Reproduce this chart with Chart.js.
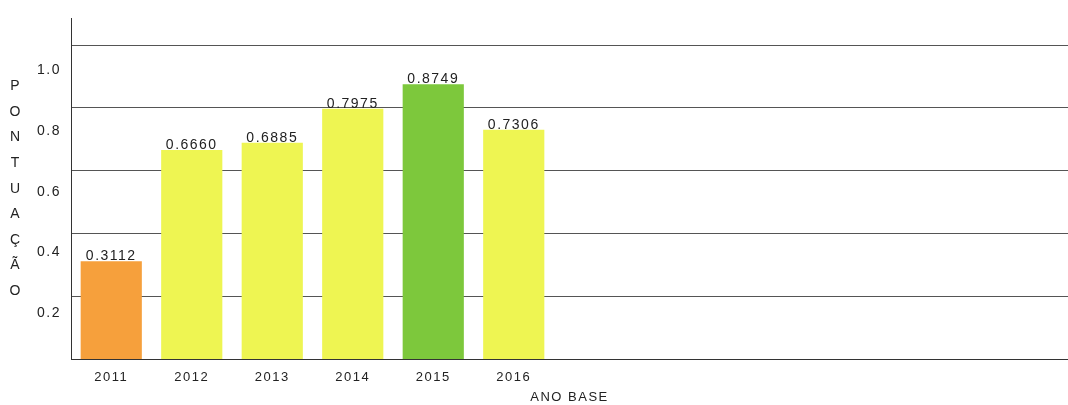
<!DOCTYPE html>
<html>
<head>
<meta charset="utf-8">
<script src="https://cdn.jsdelivr.net/npm/chart.js@4/dist/chart.umd.min.js"></script>
<style>
  html, body { margin: 0; padding: 0; background: #ffffff; overflow: hidden; }
  #wrap { width: 1068px; height: 405px; position: relative; }
</style>
</head>
<body>
<div id="wrap"><canvas id="c"></canvas></div>
<script>
// ---- data ----
const categories = [2011, 2012, 2013, 2014, 2015, 2016];
const scores = [0.3112, 0.6660, 0.6885, 0.7975, 0.8749, 0.7306];
const barColors = ['#F6A03C', '#EEF552', '#EEF552', '#EEF552', '#7DC83C', '#EEF552'];
const yTickValues = [0.2, 0.4, 0.6, 0.8, 1.0];
const yTitle = 'PONTUAÇÃO';
const xTitle = 'ANO BASE';

const FONT = "'Liberation Sans', Arial, sans-serif";
const TEXT = '#222222';

const spacingPlugin = {
  id: 'spacing',
  beforeUpdate(c) { c.ctx.letterSpacing = '1.5px'; },
  beforeLayout(c) { c.ctx.letterSpacing = '1.5px'; },
  beforeDraw(c) { c.ctx.letterSpacing = '1.5px'; }
};

const valueLabels = {
  id: 'valueLabels',
  afterDatasetsDraw(c) {
    const ctx = c.ctx;
    const meta = c.getDatasetMeta(0);
    ctx.save();
    ctx.letterSpacing = '1.5px';
    ctx.font = '14px ' + FONT;
    ctx.fillStyle = TEXT;
    ctx.textAlign = 'center';
    ctx.textBaseline = 'alphabetic';
    meta.data.forEach((bar, i) => {
      ctx.fillText(scores[i].toFixed(4), bar.x, bar.y - 1);
    });
    ctx.restore();
  }
};

const stackedTitle = {
  id: 'stackedTitle',
  afterDraw(c) {
    const ctx = c.ctx;
    const area = c.chartArea;
    const letters = Array.from(yTitle);
    const step = 25.6;
    const mid = (area.top + area.bottom) / 2;
    const first = mid - step * (letters.length - 1) / 2;
    ctx.save();
    ctx.letterSpacing = '0px';
    ctx.font = '14px ' + FONT;
    ctx.fillStyle = TEXT;
    ctx.textAlign = 'center';
    ctx.textBaseline = 'middle';
    letters.forEach((ch, i) => ctx.fillText(ch, 15, first + i * step));
    ctx.restore();
  }
};

new Chart(document.getElementById('c'), {
  type: 'bar',
  data: {
    datasets: [{
      data: categories.map((c, i) => ({ x: c, y: scores[i] })),
      xAxisID: 'x',
      yAxisID: 'y',
      backgroundColor: barColors,
      borderWidth: 0,
      categoryPercentage: 0.8,
      barPercentage: 0.95
    }]
  },
  options: {
    responsive: true,
    maintainAspectRatio: false,
    animation: false,
    events: [],
    layout: { padding: { left: 30, top: 15, right: 0, bottom: 0 } },
    plugins: { legend: { display: false }, tooltip: { enabled: false } },
    scales: {
      x: {
        type: 'linear',
        offset: false,
        min: 2010.5,
        max: 2022.885,
        afterBuildTicks(s) { s.ticks = categories.map(v => ({ value: v })); },
        afterFit(s) { s.height = 46; },
        grid: { display: false, drawTicks: false, offset: false },
        border: { display: true, color: '#333333', width: 1 },
        ticks: {
          autoSkip: false, maxRotation: 0, padding: 11,
          color: TEXT, font: { family: FONT, size: 13 },
          callback: v => String(v)
        },
        title: {
          display: true, text: xTitle, color: TEXT,
          font: { family: FONT, size: 13 }, padding: { top: 0, bottom: 0 }
        }
      },
      yLabels: {
        type: 'linear',
        position: 'left',
        weight: 2,
        min: 0.0504,
        max: 1.169,
        afterBuildTicks(s) { s.ticks = yTickValues.map(v => ({ value: v })); },
        afterFit(s) { s.width = 41; },
        grid: { display: false, drawTicks: false },
        border: { display: false },
        ticks: {
          padding: 10, color: TEXT, font: { family: FONT, size: 14 },
          callback: v => v.toFixed(1)
        }
      },
      y: {
        type: 'linear',
        position: 'left',
        weight: 1,
        min: 0,
        max: 1.085,
        afterBuildTicks(s) { s.ticks = yTickValues.map(v => ({ value: v })); },
        afterFit(s) { s.width = 0; },
        grid: { color: '#555555', lineWidth: 1, drawTicks: false },
        border: { display: true, color: '#333333', width: 1 },
        ticks: { display: false }
      }
    }
  },
  plugins: [spacingPlugin, valueLabels, stackedTitle]
});
</script>
</body>
</html>
